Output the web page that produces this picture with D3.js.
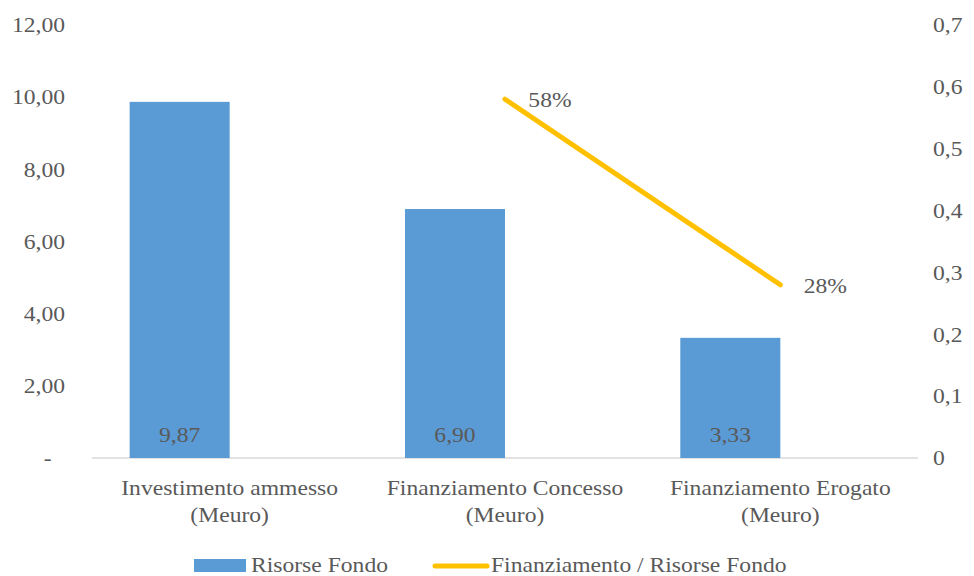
<!DOCTYPE html>
<html>
<head>
<meta charset="utf-8">
<script src="https://cdn.jsdelivr.net/npm/d3@7"></script>
<style>
  html, body { margin: 0; padding: 0; background: #fff; }
  svg { display: block; }
  text { font-family: "Liberation Serif", "Times New Roman", serif; fill: #595959; }
</style>
</head>
<body>
<svg id="chart" width="974" height="576"></svg>
<script>
// Categories (two-line labels)
const categories = [
  ["Investimento ammesso", "(Meuro)"],
  ["Finanziamento Concesso", "(Meuro)"],
  ["Finanziamento Erogato", "(Meuro)"]
];
const categoryKeys = ["Investimento", "Concesso", "Erogato"];

// Series: fund resources (Meuro) and financing / fund ratio
const risorseFondo = [9.87, 6.90, 3.33];
const rapporto = [null, 0.58, 0.28];

// Axis ticks
const leftTicks = [0, 2, 4, 6, 8, 10, 12];
const rightTicks = [0, 0.1, 0.2, 0.3, 0.4, 0.5, 0.6, 0.7];

const seriesNames = ["Risorse Fondo", "Finanziamento / Risorse Fondo"];

const svg = d3.select("#chart");
const margin = { left: 92, right: 918, top: 25, bottom: 458 };

const blue = "#5B9BD5";
const gold = "#FFC000";
const textColor = "#595959";
const FS = 21;        // font size
const SX = 1.124;     // horizontal text widening

// Widen a text element horizontally around its own x anchor
function widen(sel) {
  sel.each(function () {
    const x = +this.getAttribute("x") || 0;
    this.setAttribute("transform", `translate(${x},0) scale(${SX},1) translate(${-x},0)`);
  });
}

const x = d3.scaleBand().domain(categoryKeys).range([margin.left, margin.right]).padding(0);
const yL = d3.scaleLinear().domain([0, 12]).range([margin.bottom, margin.top]);
const yR = d3.scaleLinear().domain([0, 0.7]).range([margin.bottom, margin.top]);

const comma = f => s => f(s).replace(".", ",");
const fmt2 = comma(d3.format(".2f"));
const fmt1 = comma(d3.format(".1f"));

// Left axis
const leftAxis = d3.axisLeft(yL).tickValues(leftTicks).tickSize(0).tickPadding(0)
  .tickFormat(d => d === 0 ? "-" : fmt2(d));
const gL = svg.append("g").attr("transform", "translate(65,0)").call(leftAxis);
gL.select(".domain").remove();
gL.selectAll("text").attr("font-size", FS).attr("font-family", "Liberation Serif")
  .attr("fill", textColor).attr("dx", d => d === 0 ? -12 : 0).call(widen);

// Right axis
const rightAxis = d3.axisRight(yR).tickValues(rightTicks).tickSize(0).tickPadding(0)
  .tickFormat(d => d === 0 ? "0" : fmt1(d));
const gR = svg.append("g").attr("transform", "translate(933,0)").call(rightAxis);
gR.select(".domain").remove();
gR.selectAll("text").attr("font-size", FS).attr("font-family", "Liberation Serif")
  .attr("fill", textColor).call(widen);

// Category axis line
svg.append("line")
  .attr("x1", margin.left).attr("x2", margin.right)
  .attr("y1", yL(0)).attr("y2", yL(0))
  .attr("stroke", "#D9D9D9").attr("stroke-width", 1.3);

// Bars: occupy the left slot of each category group
const barW = x.bandwidth() * 0.3633;
const barX = (i) => x(categoryKeys[i]) + x.bandwidth() / 2 - barW;

svg.append("g").selectAll("rect")
  .data(risorseFondo)
  .join("rect")
  .attr("x", (d, i) => barX(i))
  .attr("y", d => yL(d))
  .attr("width", barW)
  .attr("height", d => yL(0) - yL(d))
  .attr("fill", blue);

// Bar value labels (inside base)
svg.append("g").selectAll("text")
  .data(risorseFondo)
  .join("text")
  .attr("x", (d, i) => barX(i) + barW / 2)
  .attr("y", yL(0) - 16)
  .attr("text-anchor", "middle")
  .attr("font-size", FS)
  .attr("fill", "#404040")
  .text(d => fmt2(d))
  .call(widen);

// Ratio line
const pts = rapporto.map((v, i) => ({ v, cx: x(categoryKeys[i]) + x.bandwidth() / 2 }));
const line = d3.line().defined(d => d.v !== null).x(d => d.cx).y(d => yR(d.v));
svg.append("path")
  .datum(pts)
  .attr("d", line)
  .attr("fill", "none")
  .attr("stroke", gold)
  .attr("stroke-width", 5)
  .attr("stroke-linecap", "round")
  .attr("stroke-linejoin", "round");

svg.append("g").selectAll("text")
  .data(pts.filter(d => d.v !== null))
  .join("text")
  .attr("x", d => d.cx + 45)
  .attr("y", d => yR(d.v) + 3)
  .attr("dominant-baseline", "middle")
  .attr("text-anchor", "middle")
  .attr("font-size", FS)
  .attr("fill", "#404040")
  .text(d => Math.round(d.v * 100) + "%")
  .call(widen);

// Category labels
const catG = svg.append("g");
categories.forEach((lines, i) => {
  const cx = x(categoryKeys[i]) + x.bandwidth() / 2;
  const t = catG.append("text")
    .attr("x", cx)
    .attr("y", 495)
    .attr("text-anchor", "middle")
    .attr("font-size", FS)
    .attr("fill", textColor);
  lines.forEach((s, j) => {
    t.append("tspan").attr("x", cx).attr("dy", j === 0 ? 0 : 27).text(s);
  });
  widen(t);
});

// Legend
const leg = svg.append("g");
leg.append("rect").attr("x", 194).attr("y", 559).attr("width", 52).attr("height", 13).attr("fill", blue);
leg.append("text").attr("x", 251).attr("y", 572).attr("font-size", FS).attr("fill", textColor)
  .text(seriesNames[0]).call(widen);
leg.append("line").attr("x1", 435).attr("x2", 487).attr("y1", 566).attr("y2", 566)
  .attr("stroke", gold).attr("stroke-width", 5).attr("stroke-linecap", "round");
leg.append("text").attr("x", 491).attr("y", 572).attr("font-size", FS).attr("fill", textColor)
  .text(seriesNames[1]).call(widen);
</script>
</body>
</html>
